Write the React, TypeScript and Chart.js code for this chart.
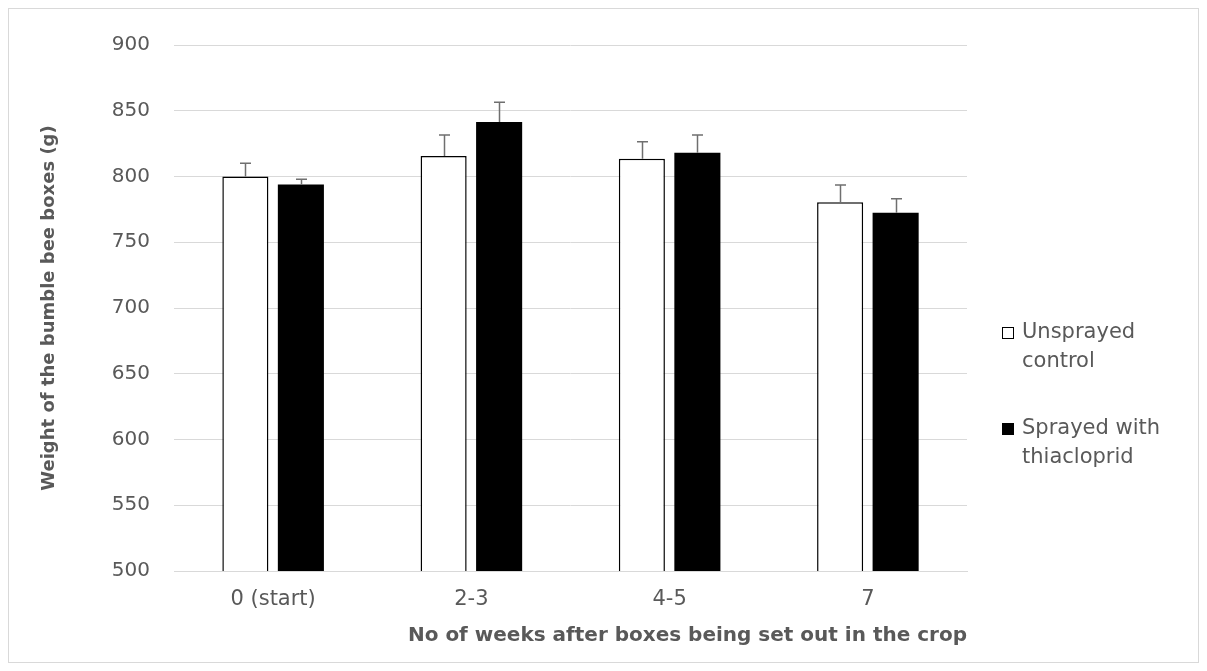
import React, { useEffect, useRef } from "react";
import { Chart, registerables } from "chart.js";

Chart.register(...registerables);

const categories = ["0 (start)", "2-3", "4-5", "7"];
const controlLabel = ["Unsprayed", "control"];
const sprayedLabel = ["Sprayed with", "thiacloprid"];
const controlValues = [800, 815.5, 813.5, 780.5];
const controlErrors = [10, 16, 13, 13];
const sprayedValues = [794, 841.5, 818, 772.5];
const sprayedErrors = [4, 15, 13.5, 10.5];
const yMin = 500;
const yMax = 900;
const yStep = 50;
const yTitle = "Weight of the bumble bee boxes (g)";
const xTitle = "No of weeks after boxes being set out in the crop";

const TEXT = "#595959";
const FONT = "'DejaVu Sans', sans-serif";

const errorBarPlugin = {
  id: "errorBars",
  afterDatasetsDraw(chart: any) {
    const ctx = chart.ctx;
    const yScale = chart.scales.y;
    chart.data.datasets.forEach((ds: any, i: number) => {
      const meta = chart.getDatasetMeta(i);
      const errs: number[] = ds.errors || [];
      meta.data.forEach((el: any, j: number) => {
        const v = ds.data[j];
        const top = yScale.getPixelForValue(v + errs[j]);
        const x = Math.round(el.x) + 0.5;
        ctx.save();
        ctx.strokeStyle = "#6f6f6f";
        ctx.lineWidth = 1.5;
        ctx.beginPath();
        ctx.moveTo(x, el.y);
        ctx.lineTo(x, top);
        ctx.moveTo(x - 5.5, top);
        ctx.lineTo(x + 5.5, top);
        ctx.stroke();
        ctx.restore();
      });
    });
  },
};

const legendPlugin = {
  id: "sideLegend",
  afterDraw(chart: any) {
    const ctx = chart.ctx;
    const area = chart.chartArea;
    const x0 = area.right + 35;
    const items = [
      { lines: controlLabel, fill: "#ffffff", y: area.top + 288 },
      { lines: sprayedLabel, fill: "#000000", y: area.top + 384 },
    ];
    ctx.save();
    ctx.font = `21px ${FONT}`;
    ctx.textBaseline = "middle";
    ctx.textAlign = "left";
    items.forEach((it) => {
      ctx.fillStyle = it.fill;
      ctx.fillRect(x0, it.y - 6, 12, 12);
      ctx.strokeStyle = "#000000";
      ctx.lineWidth = 1;
      ctx.strokeRect(x0 + 0.5, it.y - 5.5, 11, 11);
      ctx.fillStyle = TEXT;
      it.lines.forEach((ln: string, k: number) => {
        ctx.fillText(ln, x0 + 20, it.y + k * 29);
      });
    });
    ctx.restore();
  },
};

export default function App() {
  const ref = useRef<HTMLCanvasElement | null>(null);

  useEffect(() => {
    if (!ref.current) return;
    const chart = new Chart(ref.current, {
      type: "bar",
      data: {
        labels: categories,
        datasets: [
          {
            label: controlLabel.join(" "),
            data: controlValues,
            errors: controlErrors,
            backgroundColor: "#ffffff",
            borderColor: "#000000",
            borderWidth: 1.5,
            borderSkipped: "bottom",
          } as any,
          {
            label: sprayedLabel.join(" "),
            data: sprayedValues,
            errors: sprayedErrors,
            backgroundColor: "#000000",
            borderColor: "#000000",
            borderWidth: 0,
          } as any,
        ],
      },
      options: {
        animation: false,
        responsive: false,
        maintainAspectRatio: false,
        categoryPercentage: 0.56,
        barPercentage: 0.83,
        layout: { padding: { top: 35, right: 231, bottom: 0, left: 0 } },
        plugins: {
          legend: { display: false },
          tooltip: { enabled: false },
        },
        scales: {
          x: {
            grid: { display: false, drawTicks: false },
            border: { display: true, color: "#d9d9d9", width: 1 },
            ticks: { color: TEXT, font: { family: FONT, size: 21 }, padding: 16 },
            title: {
              display: true,
              text: xTitle,
              align: "end",
              color: TEXT,
              font: { family: FONT, size: 20, weight: "bold" },
              padding: { top: 0, bottom: 14 },
            },
            afterFit(scale: any) {
              scale.height = 91;
            },
          },
          y: {
            min: yMin,
            max: yMax,
            ticks: {
              stepSize: yStep,
              color: TEXT,
              font: { family: FONT, size: 20 },
              padding: 24,
            },
            grid: { color: "#d9d9d9", lineWidth: 1, drawTicks: false },
            border: { display: false },
            title: {
              display: true,
              text: yTitle,
              color: TEXT,
              font: { family: FONT, size: 18, weight: "bold" },
              padding: { top: 30, bottom: 0 },
            },
            afterFit(scale: any) {
              scale.width = 165;
            },
          },
        },
      } as any,
      plugins: [errorBarPlugin, legendPlugin],
    });
    return () => chart.destroy();
  }, []);

  return (
    <div style={{ width: 1189, height: 653, border: "1px solid #d9d9d9", background: "#fff" }}>
      <canvas ref={ref} width={1189} height={653} style={{ display: "block", width: 1189, height: 653 }} />
    </div>
  );
}
